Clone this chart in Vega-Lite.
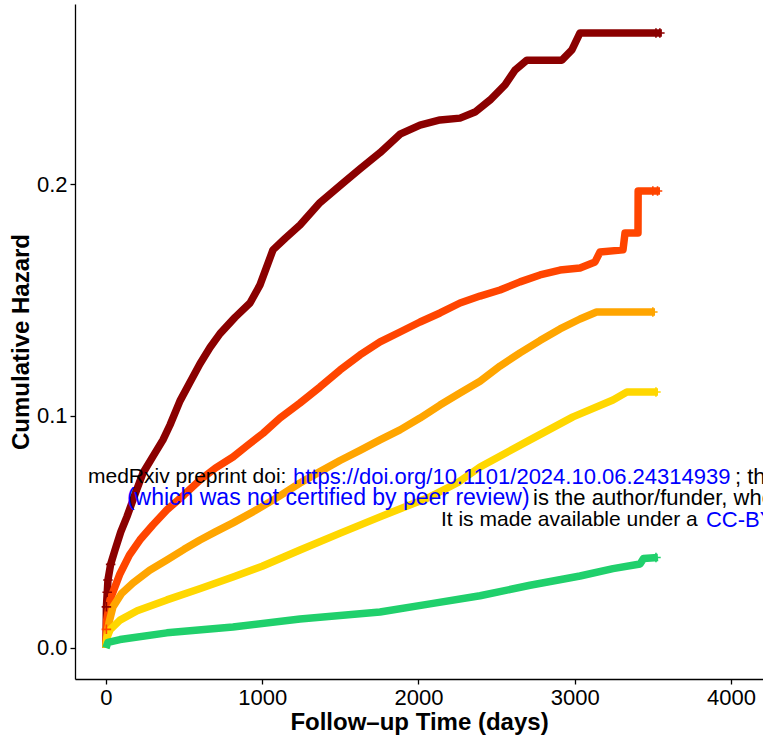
{
  "$schema": "https://vega.github.io/schema/vega-lite/v6.json",
  "autosize": {"type": "none"},
  "padding": {"left": 75, "top": 4, "right": 0, "bottom": 65},
  "width": 688,
  "height": 675,
  "background": "white",
  "config": {
    "view": {"stroke": null},
    "font": "Liberation Sans",
    "axis": {
      "grid": false,
      "domainColor": "black",
      "domainWidth": 1.3,
      "tickColor": "black",
      "tickWidth": 1.3,
      "tickSize": 5,
      "labelFont": "Liberation Sans",
      "labelFontSize": 22,
      "labelColor": "black",
      "labelPadding": 3,
      "titleFont": "Liberation Sans",
      "titleFontSize": 24,
      "titleFontWeight": "bold",
      "titleColor": "black"
    }
  },
  "datasets": {
    "curves": [
      {"g": "G1", "t": 0, "h": 0},
      {"g": "G1", "t": 1, "h": 0.004},
      {"g": "G1", "t": 3, "h": 0.0177},
      {"g": "G1", "t": 13, "h": 0.0293},
      {"g": "G1", "t": 30, "h": 0.036},
      {"g": "G1", "t": 58, "h": 0.0422},
      {"g": "G1", "t": 95, "h": 0.050},
      {"g": "G1", "t": 134, "h": 0.0565},
      {"g": "G1", "t": 185, "h": 0.066},
      {"g": "G1", "t": 237, "h": 0.0754},
      {"g": "G1", "t": 300, "h": 0.0825},
      {"g": "G1", "t": 365, "h": 0.0897},
      {"g": "G1", "t": 410, "h": 0.0961},
      {"g": "G1", "t": 474, "h": 0.1065},
      {"g": "G1", "t": 538, "h": 0.1145},
      {"g": "G1", "t": 602, "h": 0.1225},
      {"g": "G1", "t": 666, "h": 0.1295},
      {"g": "G1", "t": 730, "h": 0.1355},
      {"g": "G1", "t": 826, "h": 0.1425},
      {"g": "G1", "t": 922, "h": 0.1487},
      {"g": "G1", "t": 986, "h": 0.1565},
      {"g": "G1", "t": 1069, "h": 0.1716},
      {"g": "G1", "t": 1146, "h": 0.1765},
      {"g": "G1", "t": 1242, "h": 0.1823},
      {"g": "G1", "t": 1370, "h": 0.192},
      {"g": "G1", "t": 1517, "h": 0.2004},
      {"g": "G1", "t": 1626, "h": 0.2065},
      {"g": "G1", "t": 1754, "h": 0.2135},
      {"g": "G1", "t": 1882, "h": 0.2215},
      {"g": "G1", "t": 2010, "h": 0.2254},
      {"g": "G1", "t": 2138, "h": 0.2276},
      {"g": "G1", "t": 2266, "h": 0.2284},
      {"g": "G1", "t": 2362, "h": 0.2310},
      {"g": "G1", "t": 2458, "h": 0.2362},
      {"g": "G1", "t": 2554, "h": 0.2427},
      {"g": "G1", "t": 2618, "h": 0.2491},
      {"g": "G1", "t": 2694, "h": 0.2534},
      {"g": "G1", "t": 2918, "h": 0.2534},
      {"g": "G1", "t": 2982, "h": 0.2578},
      {"g": "G1", "t": 3034, "h": 0.2651},
      {"g": "G1", "t": 3558, "h": 0.2651},

      {"g": "G2", "t": 0, "h": 0},
      {"g": "G2", "t": 1, "h": 0.004},
      {"g": "G2", "t": 5, "h": 0.012},
      {"g": "G2", "t": 26, "h": 0.0207},
      {"g": "G2", "t": 90, "h": 0.032},
      {"g": "G2", "t": 150, "h": 0.040},
      {"g": "G2", "t": 218, "h": 0.0466},
      {"g": "G2", "t": 300, "h": 0.053},
      {"g": "G2", "t": 390, "h": 0.0595},
      {"g": "G2", "t": 500, "h": 0.066},
      {"g": "G2", "t": 602, "h": 0.0724},
      {"g": "G2", "t": 700, "h": 0.0775},
      {"g": "G2", "t": 813, "h": 0.0823},
      {"g": "G2", "t": 900, "h": 0.087},
      {"g": "G2", "t": 1005, "h": 0.0925},
      {"g": "G2", "t": 1114, "h": 0.0991},
      {"g": "G2", "t": 1242, "h": 0.1056},
      {"g": "G2", "t": 1370, "h": 0.1125},
      {"g": "G2", "t": 1498, "h": 0.1198},
      {"g": "G2", "t": 1626, "h": 0.1263},
      {"g": "G2", "t": 1754, "h": 0.1319},
      {"g": "G2", "t": 1882, "h": 0.1362},
      {"g": "G2", "t": 2010, "h": 0.1405},
      {"g": "G2", "t": 2138, "h": 0.1444},
      {"g": "G2", "t": 2266, "h": 0.1487},
      {"g": "G2", "t": 2394, "h": 0.1517},
      {"g": "G2", "t": 2522, "h": 0.1543},
      {"g": "G2", "t": 2650, "h": 0.1578},
      {"g": "G2", "t": 2778, "h": 0.1608},
      {"g": "G2", "t": 2906, "h": 0.1629},
      {"g": "G2", "t": 3034, "h": 0.1638},
      {"g": "G2", "t": 3130, "h": 0.1664},
      {"g": "G2", "t": 3162, "h": 0.1707},
      {"g": "G2", "t": 3309, "h": 0.1716},
      {"g": "G2", "t": 3322, "h": 0.1789},
      {"g": "G2", "t": 3405, "h": 0.1789},
      {"g": "G2", "t": 3406, "h": 0.197},
      {"g": "G2", "t": 3546, "h": 0.197},

      {"g": "G3", "t": 0, "h": 0},
      {"g": "G3", "t": 6, "h": 0.006},
      {"g": "G3", "t": 20, "h": 0.011},
      {"g": "G3", "t": 45, "h": 0.0177},
      {"g": "G3", "t": 100, "h": 0.0235},
      {"g": "G3", "t": 173, "h": 0.028},
      {"g": "G3", "t": 280, "h": 0.0335},
      {"g": "G3", "t": 390, "h": 0.0379},
      {"g": "G3", "t": 500, "h": 0.0425},
      {"g": "G3", "t": 602, "h": 0.0465},
      {"g": "G3", "t": 700, "h": 0.050},
      {"g": "G3", "t": 813, "h": 0.0539},
      {"g": "G3", "t": 950, "h": 0.059},
      {"g": "G3", "t": 1100, "h": 0.065},
      {"g": "G3", "t": 1242, "h": 0.0711},
      {"g": "G3", "t": 1370, "h": 0.076},
      {"g": "G3", "t": 1498, "h": 0.0808},
      {"g": "G3", "t": 1626, "h": 0.0852},
      {"g": "G3", "t": 1754, "h": 0.0897},
      {"g": "G3", "t": 1882, "h": 0.094},
      {"g": "G3", "t": 2010, "h": 0.0991},
      {"g": "G3", "t": 2138, "h": 0.1047},
      {"g": "G3", "t": 2266, "h": 0.1099},
      {"g": "G3", "t": 2394, "h": 0.1150},
      {"g": "G3", "t": 2522, "h": 0.1215},
      {"g": "G3", "t": 2650, "h": 0.1272},
      {"g": "G3", "t": 2778, "h": 0.1325},
      {"g": "G3", "t": 2906, "h": 0.1375},
      {"g": "G3", "t": 3034, "h": 0.1418},
      {"g": "G3", "t": 3140, "h": 0.1448},
      {"g": "G3", "t": 3514, "h": 0.1448},

      {"g": "G4", "t": 0, "h": 0},
      {"g": "G4", "t": 6, "h": 0.0043},
      {"g": "G4", "t": 26, "h": 0.0078},
      {"g": "G4", "t": 90, "h": 0.012},
      {"g": "G4", "t": 200, "h": 0.016},
      {"g": "G4", "t": 390, "h": 0.0207},
      {"g": "G4", "t": 600, "h": 0.0255},
      {"g": "G4", "t": 813, "h": 0.0306},
      {"g": "G4", "t": 1000, "h": 0.0352},
      {"g": "G4", "t": 1242, "h": 0.0422},
      {"g": "G4", "t": 1500, "h": 0.0495},
      {"g": "G4", "t": 1754, "h": 0.0565},
      {"g": "G4", "t": 2074, "h": 0.0651},
      {"g": "G4", "t": 2250, "h": 0.0712},
      {"g": "G4", "t": 2394, "h": 0.078},
      {"g": "G4", "t": 2714, "h": 0.0897},
      {"g": "G4", "t": 2989, "h": 0.0996},
      {"g": "G4", "t": 3245, "h": 0.1069},
      {"g": "G4", "t": 3334, "h": 0.1103},
      {"g": "G4", "t": 3533, "h": 0.1103},

      {"g": "G5", "t": 0, "h": 0},
      {"g": "G5", "t": 13, "h": 0.0024},
      {"g": "G5", "t": 90, "h": 0.0036},
      {"g": "G5", "t": 390, "h": 0.0065},
      {"g": "G5", "t": 813, "h": 0.009},
      {"g": "G5", "t": 1242, "h": 0.0125},
      {"g": "G5", "t": 1754, "h": 0.0155},
      {"g": "G5", "t": 2074, "h": 0.019},
      {"g": "G5", "t": 2394, "h": 0.0225},
      {"g": "G5", "t": 2714, "h": 0.027},
      {"g": "G5", "t": 3034, "h": 0.031},
      {"g": "G5", "t": 3245, "h": 0.0342},
      {"g": "G5", "t": 3418, "h": 0.0362},
      {"g": "G5", "t": 3440, "h": 0.0385},
      {"g": "G5", "t": 3533, "h": 0.039}
    ],
    "censor": [
      {"g": "G1", "t": 3520, "h": 0.2651},
      {"g": "G1", "t": 3545, "h": 0.2651},
      {"g": "G1", "t": 3, "h": 0.0177},
      {"g": "G1", "t": 8, "h": 0.024},
      {"g": "G1", "t": 13, "h": 0.0293},
      {"g": "G1", "t": 30, "h": 0.036},
      {"g": "G2", "t": 3500, "h": 0.197},
      {"g": "G2", "t": 3530, "h": 0.197},
      {"g": "G2", "t": 3, "h": 0.008},
      {"g": "G3", "t": 3500, "h": 0.1448},
      {"g": "G4", "t": 3520, "h": 0.1103},
      {"g": "G5", "t": 3520, "h": 0.039}
    ],
    "notes": [
      {"t": -115, "h": 0.0737, "txt": "medRxiv preprint doi: ", "c": "black", "w": "normal", "s": 21},
      {"t": 1197, "h": 0.0737, "txt": "https://doi.org/10.1101/2024.10.06.24314939", "c": "blue", "w": "normal", "s": 22},
      {"t": 4026, "h": 0.0737, "txt": "; this version posted October 7, 2024. The copyright holder for this preprint", "c": "black", "w": "normal", "s": 22},
      {"t": 134, "h": 0.0647, "txt": "(which was not certified by peer review)", "c": "blue", "w": "bold", "s": 23},
      {"t": 2733, "h": 0.0647, "txt": " is the author/funder, who has granted medRxiv a license to display the preprint in perpetuity.", "c": "black", "w": "normal", "s": 22},
      {"t": 2144, "h": 0.0552, "txt": "It is made available under a ", "c": "black", "w": "normal", "s": 21},
      {"t": 3840, "h": 0.0552, "txt": "CC-BY 4.0 International license", "c": "blue", "w": "normal", "s": 22}
    ]
  },
  "layer": [
    {
      "data": {"name": "curves"},
      "mark": {"type": "line", "strokeWidth": 7.5, "strokeJoin": "round", "clip": true},
      "encoding": {
        "x": {
          "field": "t", "type": "quantitative",
          "scale": {"domain": [-198, 4205], "nice": false, "zero": false},
          "axis": {"values": [0, 1000, 2000, 3000, 4000], "format": "d", "title": "Follow\u2013up Time (days)", "titlePadding": 2}
        },
        "y": {
          "field": "h", "type": "quantitative",
          "scale": {"domain": [-0.0134, 0.2776], "nice": false, "zero": false},
          "axis": {"values": [0, 0.1, 0.2], "format": ".1f", "title": "Cumulative Hazard", "titlePadding": 3}
        },
        "color": {
          "field": "g", "type": "nominal",
          "scale": {"domain": ["G1", "G2", "G3", "G4", "G5"], "range": ["#8B0000", "#FF4500", "#FFA500", "#FFD700", "#20D06C"]},
          "legend": null
        },
        "order": {"field": "t", "type": "quantitative"}
      }
    },
    {
      "data": {"name": "censor"},
      "mark": {"type": "point", "shape": "M-1,0L1,0M0,-1L0,1", "filled": false, "strokeWidth": 1.6, "size": 90, "opacity": 1},
      "encoding": {
        "x": {"field": "t", "type": "quantitative"},
        "y": {"field": "h", "type": "quantitative"},
        "color": {"field": "g", "type": "nominal", "legend": null}
      }
    },
    {
      "data": {"name": "notes"},
      "mark": {"type": "text", "align": "left", "baseline": "middle", "font": "Liberation Sans"},
      "encoding": {
        "x": {"field": "t", "type": "quantitative"},
        "y": {"field": "h", "type": "quantitative"},
        "text": {"field": "txt"},
        "color": {"field": "c", "type": "nominal", "scale": null},
        "fontWeight": {"field": "w", "type": "nominal", "scale": null},
        "size": {"field": "s", "type": "quantitative", "scale": null}
      }
    }
  ]
}
